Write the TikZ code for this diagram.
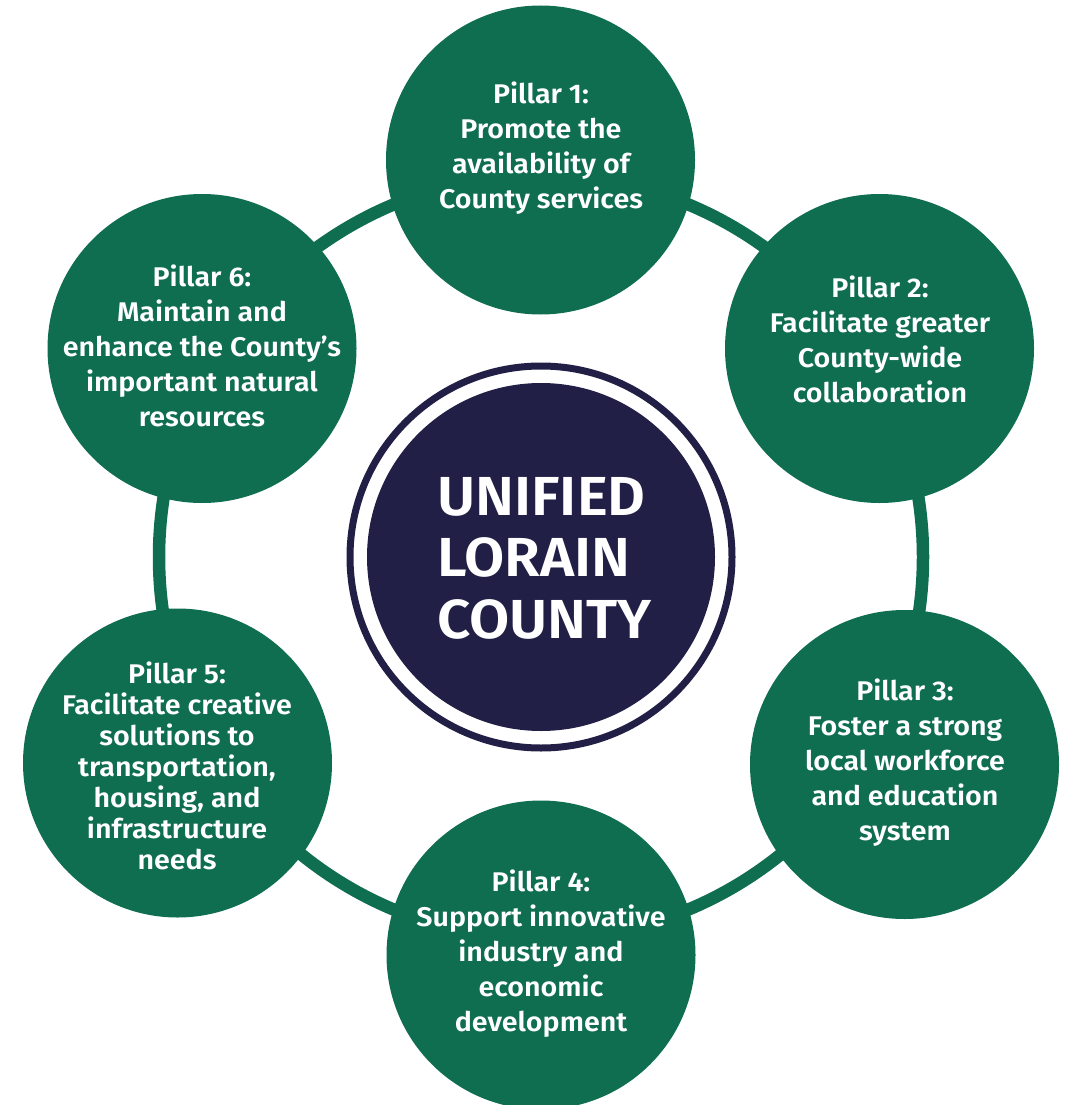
\documentclass[tikz,border=0pt]{standalone}
\usepackage{fontspec}
\setmainfont{Fira Sans}[BoldFont={Fira Sans SemiBold}, FakeStretch=1.06]
\definecolor{pgreen}{HTML}{0F6D50}
\definecolor{pnavy}{HTML}{221F46}
\begin{document}
\begin{tikzpicture}[x=1pt,y=-1pt,
  pillar/.style={circle, fill=pgreen, minimum size=309pt, inner sep=0pt},
  ptext/.style={text=white, align=center, inner sep=0pt, font=\bfseries\fontsize{27}{35}\selectfont},
  ring/.style={draw=pgreen, line width=12.5pt},
  hubring/.style={circle, draw=pnavy, line width=7pt, minimum size=382pt, inner sep=0pt},
  hub/.style={circle, fill=pnavy, minimum size=348pt, inner sep=0pt},
  hubtext/.style={text=white, align=left, inner sep=0pt, font=\bfseries\fontsize{55}{61.5}\selectfont}]
\useasboundingbox (0,0) rectangle (1069,1105);
\coordinate (ctr) at (541,557);
\draw[ring] (ctr) circle [radius=382pt];
\node[hubring] (hr) at (ctr) {};
\node[hub] (hub) at (ctr) {};
\node[hubtext, anchor=west] (title) at (437,558) {UNIFIED\\LORAIN\\COUNTY};
\node[pillar] (p1) at (540.5,160) {};
\node[pillar] (p2) at (879.5,348.5) {};
\node[pillar] (p3) at (904.5,764.5) {};
\node[pillar] (p4) at (541,955) {};
\node[pillar] (p5) at (177.5,763) {};
\node[pillar] (p6) at (202,348.5) {};
\node[ptext] (t1) at (541,148.5) {Pillar 1:\\Promote the\\availability of\\County services};
\node[ptext] (t2) at (880,339.5) {Pillar 2:\\Facilitate greater\\County-wide\\collaboration};
\node[ptext] (t3) at (905,762.5) {Pillar 3:\\Foster a strong\\local workforce\\and education\\system};
\node[ptext] (t4) at (541,953.5) {Pillar 4:\\Support innovative\\industry and\\economic\\development};
\node[ptext, font=\bfseries\fontsize{27}{31}\selectfont] (t5) at (177,765.5) {Pillar 5:\\Facilitate creative\\solutions to\\transportation,\\housing, and\\infrastructure\\needs};
\node[ptext] (t6) at (202,346) {Pillar 6:\\Maintain and\\enhance the County’s\\important natural\\resources};
\end{tikzpicture}
\end{document}
